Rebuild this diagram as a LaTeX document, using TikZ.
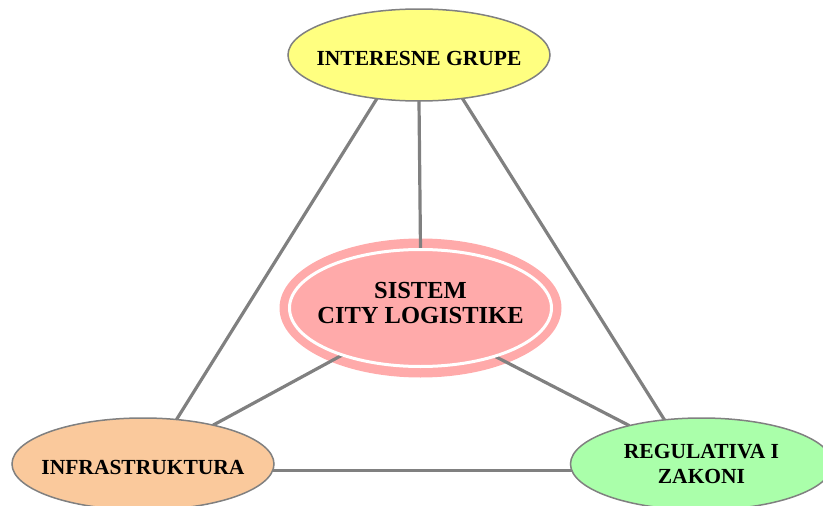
\documentclass[tikz,border=0pt]{standalone}
\usepackage{fontspec}
\setmainfont{Liberation Serif}
\usepackage{xcolor}
\usetikzlibrary{shapes.geometric}
\usetikzlibrary{backgrounds}
\definecolor{edge}{HTML}{808080}
\definecolor{grupe}{HTML}{FFFF80}
\definecolor{infra}{HTML}{FAC99C}
\definecolor{zakoni}{HTML}{AAFFAA}
\definecolor{city}{HTML}{FFAAAA}

\begin{document}
\begin{tikzpicture}[x=1pt,y=-1pt,
    box/.style={ellipse, draw=edge, line width=1.5pt, minimum width=262pt,
        minimum height=92pt, inner xsep=-20pt, inner ysep=0pt, outer sep=0pt,
        align=center, font=\bfseries\fontsize{21.5}{25.6}\selectfont},
    link/.style={draw=edge, line width=3.2pt}]
    \useasboundingbox (0,0) rectangle (823,506);

    \coordinate (G) at (419, 55);
    \coordinate (I) at (143, 464);
    \coordinate (R) at (701.5, 464);
    \coordinate (S) at (420.5, 308);

    \node[box, fill=grupe, text height=21pt] (grupe) at (G) {INTERESNE GRUPE};
    \node[box, fill=infra, text height=21pt] (infra) at (I) {INFRASTRUKTURA};
    \node[box, fill=zakoni] (zakoni) at (R) {REGULATIVA I\\ZAKONI};
    \node[ellipse, fill=city, draw=white, line width=3pt, minimum width=262pt,
        minimum height=117pt, inner xsep=-20pt, inner ysep=0pt, outer sep=0pt,
        align=center, text depth=10pt,
        font=\bfseries\fontsize{24.5}{25.3}\selectfont] (sistem) at (S) {SISTEM\\CITY LOGISTIKE};

%links
    \begin{pgfonlayer}{background}
    \fill[city] (S) ellipse [x radius=141, y radius=69.5];
    \draw[link] (grupe.270) -- (sistem.90);
    \draw[link] (grupe.226.85) -- (infra.53);
    \draw[link] (grupe.315.2) -- (zakoni.130.5);
    \draw[link] (sistem.211.4) -- (infra.29.6);
    \draw[link] (sistem.327.2) -- (zakoni.152.5);
    \draw[link] (infra.357.4) -- (infra.357.4 -| zakoni.center);
    \end{pgfonlayer}

\end{tikzpicture}
\end{document}
